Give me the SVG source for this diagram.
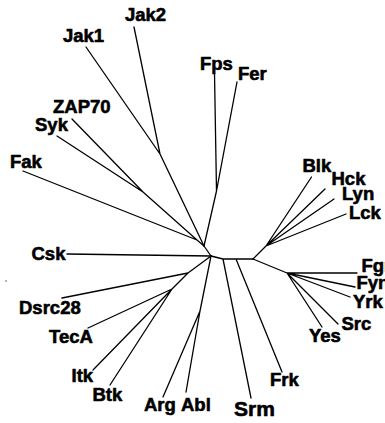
<svg xmlns="http://www.w3.org/2000/svg" width="385" height="423" viewBox="0 0 385 423">
<style>
.e{stroke:#000;stroke-width:1.3;fill:none;stroke-linecap:round;stroke-linejoin:round}
.t{font-family:"Liberation Sans",Arial,Helvetica,sans-serif;font-weight:bold;font-size:18.5px;fill:#000;stroke:#000;stroke-width:0.6;stroke-linejoin:round}
.big{font-size:21px}
</style>
<rect width="385" height="423" fill="#fff"/>
<g id="connectors">
<path class="e" d="M86,47 L160,154 M134,27 L160,154 M160,154 L204,246"/>
<path class="e" d="M72,119 L143,192 M57,136 L143,192 M143,192 L197,240 M23,171 L197,240 M197,240 L204,246"/>
<path class="e" d="M214.5,73 L216.5,191 M237,82 L216.5,191 M216.5,191 L204,246"/>
<path class="e" d="M204,246 L211,256"/>
<path class="e" d="M67,254 L211,256"/>
<path class="e" d="M211,256 L188,273 M62,298 L188,273 M188,273 L172,289 M88,328 L172,289 M93,370 L172,289 M110,385 L172,289"/>
<path class="e" d="M211,256 L200,311 M163,397 L200,311 M186,392 L200,311"/>
<path class="e" d="M211,256 L223,259 L253,259 M223,259 L251,398 M236,259 L282,372"/>
<path class="e" d="M253,259 L266,246 M266,246 L311.5,177 M266,246 L325,189 M266,246 L334,199 M266,246 L346,214"/>
<path class="e" d="M253,259 L287,273 M287,273 L357,273 M287,273 L355,287 M287,273 L350,297 M287,273 L338,324 M287,273 L322,327"/>
</g>
<g id="Jak1"><text class="t" x="63" y="42">Jak1</text></g>
<g id="Jak2"><text class="t" x="125" y="21">Jak2</text></g>
<g id="ZAP70"><text class="t" x="53" y="113">ZAP70</text></g>
<g id="Syk"><text class="t" x="35" y="131">Syk</text></g>
<g id="Fak"><text class="t" x="10" y="168">Fak</text></g>
<g id="Fps"><text class="t" x="200" y="70">Fps</text></g>
<g id="Fer"><text class="t" x="238" y="80">Fer</text></g>
<g id="Blk"><text class="t" x="302.5" y="172">Blk</text></g>
<g id="Hck"><text class="t" x="331.5" y="185">Hck</text></g>
<g id="Lyn"><text class="t" x="342" y="200">Lyn</text></g>
<g id="Lck"><text class="t" x="349" y="218.5">Lck</text></g>
<g id="Fgr"><text class="t" x="361.5" y="272">Fgr</text></g>
<g id="Fyn"><text class="t" x="356.5" y="288.5">Fyn</text></g>
<g id="Yrk"><text class="t" x="353" y="307.5">Yrk</text></g>
<g id="Src"><text class="t" x="341.5" y="330">Src</text></g>
<g id="Yes"><text class="t" x="309" y="342">Yes</text></g>
<g id="Frk"><text class="t" x="270" y="386">Frk</text></g>
<g id="Srm"><text class="t big" x="234" y="416">Srm</text></g>
<g id="Abl"><text class="t" x="181" y="410.5">Abl</text></g>
<g id="Arg"><text class="t" x="144" y="410.5">Arg</text></g>
<g id="Btk"><text class="t" x="92.5" y="401">Btk</text></g>
<g id="Itk"><text class="t" x="71.5" y="381.5">Itk</text></g>
<g id="TecA"><text class="t" x="49" y="342.5">TecA</text></g>
<g id="Dsrc28"><text class="t" x="19" y="314">Dsrc28</text></g>
<g id="Csk"><text class="t" x="31.5" y="260">Csk</text></g>
<circle cx="6" cy="281" r="0.8" fill="#555"/>
</svg>
